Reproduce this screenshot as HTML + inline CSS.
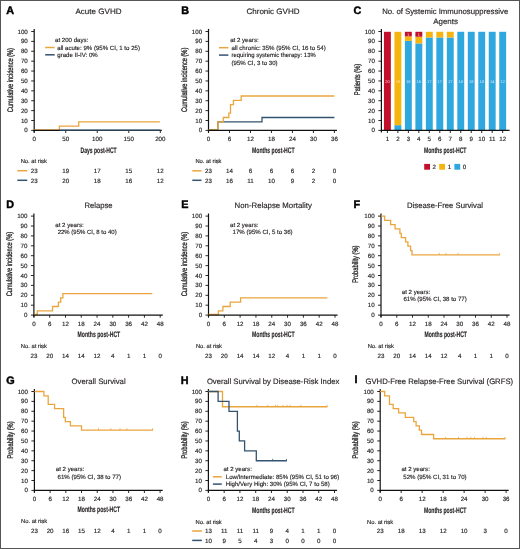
<!DOCTYPE html>
<html><head><meta charset="utf-8"><style>
html,body{margin:0;padding:0;background:#fff;}
body{width:520px;height:549px;overflow:hidden;font-family:"Liberation Sans", sans-serif;}
svg{display:block;will-change:transform;}
text{font-family:"Liberation Sans", sans-serif;text-rendering:geometricPrecision;stroke:currentColor;stroke-width:0.15px;}
</style></head><body>
<svg width="520" height="549" viewBox="0 0 520 549" font-family='"Liberation Sans", sans-serif'>
<rect x="0" y="0" width="520" height="549" fill="#fff"/>
<text x="6.30" y="13.80" font-size="10.8" text-anchor="start" font-weight="bold" fill="#000" color="#000" style="stroke-width:0.45px">A</text>
<text x="98.50" y="14.10" font-size="7.8" text-anchor="middle" font-weight="normal" fill="#231f20" color="#231f20" textLength="46.1" lengthAdjust="spacingAndGlyphs" >Acute GVHD</text>
<line x1="34.20" y1="28.90" x2="34.20" y2="132.60" stroke="#111111" stroke-width="1.2"/>
<line x1="31.20" y1="130.40" x2="34.20" y2="130.40" stroke="#111111" stroke-width="0.9"/>
<text x="27.80" y="132.40" font-size="6.2" text-anchor="end" font-weight="normal" fill="#231f20" color="#231f20" >0</text>
<line x1="31.20" y1="120.51" x2="34.20" y2="120.51" stroke="#111111" stroke-width="0.9"/>
<text x="27.80" y="122.51" font-size="6.2" text-anchor="end" font-weight="normal" fill="#231f20" color="#231f20" >10</text>
<line x1="31.20" y1="110.62" x2="34.20" y2="110.62" stroke="#111111" stroke-width="0.9"/>
<text x="27.80" y="112.62" font-size="6.2" text-anchor="end" font-weight="normal" fill="#231f20" color="#231f20" >20</text>
<line x1="31.20" y1="100.73" x2="34.20" y2="100.73" stroke="#111111" stroke-width="0.9"/>
<text x="27.80" y="102.73" font-size="6.2" text-anchor="end" font-weight="normal" fill="#231f20" color="#231f20" >30</text>
<line x1="31.20" y1="90.84" x2="34.20" y2="90.84" stroke="#111111" stroke-width="0.9"/>
<text x="27.80" y="92.84" font-size="6.2" text-anchor="end" font-weight="normal" fill="#231f20" color="#231f20" >40</text>
<line x1="31.20" y1="80.95" x2="34.20" y2="80.95" stroke="#111111" stroke-width="0.9"/>
<text x="27.80" y="82.95" font-size="6.2" text-anchor="end" font-weight="normal" fill="#231f20" color="#231f20" >50</text>
<line x1="31.20" y1="71.06" x2="34.20" y2="71.06" stroke="#111111" stroke-width="0.9"/>
<text x="27.80" y="73.06" font-size="6.2" text-anchor="end" font-weight="normal" fill="#231f20" color="#231f20" >60</text>
<line x1="31.20" y1="61.17" x2="34.20" y2="61.17" stroke="#111111" stroke-width="0.9"/>
<text x="27.80" y="63.17" font-size="6.2" text-anchor="end" font-weight="normal" fill="#231f20" color="#231f20" >70</text>
<line x1="31.20" y1="51.28" x2="34.20" y2="51.28" stroke="#111111" stroke-width="0.9"/>
<text x="27.80" y="53.28" font-size="6.2" text-anchor="end" font-weight="normal" fill="#231f20" color="#231f20" >80</text>
<line x1="31.20" y1="41.39" x2="34.20" y2="41.39" stroke="#111111" stroke-width="0.9"/>
<text x="27.80" y="43.39" font-size="6.2" text-anchor="end" font-weight="normal" fill="#231f20" color="#231f20" >90</text>
<line x1="31.20" y1="31.50" x2="34.20" y2="31.50" stroke="#111111" stroke-width="0.9"/>
<text x="27.80" y="33.50" font-size="6.2" text-anchor="end" font-weight="normal" fill="#231f20" color="#231f20" >100</text>
<text x="0" y="0" font-size="8.2" font-weight="normal" fill="#231f20" color="#231f20" text-anchor="middle" textLength="64.2" lengthAdjust="spacingAndGlyphs" style="stroke-width:0.3px" transform="translate(12.90,80.10) rotate(-90)">Cumulative incidence (%)</text>
<line x1="34.20" y1="130.40" x2="34.20" y2="133.00" stroke="#111111" stroke-width="0.9"/>
<text x="34.20" y="141.30" font-size="6.2" text-anchor="middle" font-weight="normal" fill="#231f20" color="#231f20" >0</text>
<line x1="65.73" y1="130.40" x2="65.73" y2="133.00" stroke="#111111" stroke-width="0.9"/>
<text x="65.73" y="141.30" font-size="6.2" text-anchor="middle" font-weight="normal" fill="#231f20" color="#231f20" >50</text>
<line x1="97.25" y1="130.40" x2="97.25" y2="133.00" stroke="#111111" stroke-width="0.9"/>
<text x="97.25" y="141.30" font-size="6.2" text-anchor="middle" font-weight="normal" fill="#231f20" color="#231f20" >100</text>
<line x1="128.78" y1="130.40" x2="128.78" y2="133.00" stroke="#111111" stroke-width="0.9"/>
<text x="128.78" y="141.30" font-size="6.2" text-anchor="middle" font-weight="normal" fill="#231f20" color="#231f20" >150</text>
<line x1="160.30" y1="130.40" x2="160.30" y2="133.00" stroke="#111111" stroke-width="0.9"/>
<text x="160.30" y="141.30" font-size="6.2" text-anchor="middle" font-weight="normal" fill="#231f20" color="#231f20" >200</text>
<text x="98.60" y="152.50" font-size="8.0" text-anchor="middle" font-weight="bold" fill="#231f20" color="#231f20" textLength="36.1" lengthAdjust="spacingAndGlyphs" >Days post-HCT</text>
<text x="55.00" y="42.30" font-size="6.1" text-anchor="start" font-weight="normal" fill="#231f20" color="#231f20" >at 200 days:</text>
<line x1="45.20" y1="47.50" x2="54.70" y2="47.50" stroke="#EAA63E" stroke-width="1.5"/>
<text x="57.30" y="49.60" font-size="6.1" text-anchor="start" font-weight="normal" fill="#231f20" color="#231f20" >all acute: 9% (95% CI, 1 to 25)</text>
<line x1="45.20" y1="54.80" x2="54.70" y2="54.80" stroke="#33536F" stroke-width="1.5"/>
<text x="57.30" y="56.90" font-size="6.1" text-anchor="start" font-weight="normal" fill="#231f20" color="#231f20" >grade II-IV: 0%</text>
<text x="20.70" y="163.20" font-size="5.8" text-anchor="start" font-weight="normal" fill="#231f20" color="#231f20" >No. at risk</text>
<line x1="17.30" y1="170.70" x2="27.30" y2="170.70" stroke="#EAA63E" stroke-width="1.5"/>
<line x1="17.30" y1="180.30" x2="27.30" y2="180.30" stroke="#33536F" stroke-width="1.5"/>
<text x="34.20" y="172.90" font-size="6.2" text-anchor="middle" font-weight="normal" fill="#231f20" color="#231f20" >23</text>
<text x="65.73" y="172.90" font-size="6.2" text-anchor="middle" font-weight="normal" fill="#231f20" color="#231f20" >19</text>
<text x="97.25" y="172.90" font-size="6.2" text-anchor="middle" font-weight="normal" fill="#231f20" color="#231f20" >17</text>
<text x="128.78" y="172.90" font-size="6.2" text-anchor="middle" font-weight="normal" fill="#231f20" color="#231f20" >15</text>
<text x="160.30" y="172.90" font-size="6.2" text-anchor="middle" font-weight="normal" fill="#231f20" color="#231f20" >12</text>
<text x="34.20" y="182.50" font-size="6.2" text-anchor="middle" font-weight="normal" fill="#231f20" color="#231f20" >23</text>
<text x="65.73" y="182.50" font-size="6.2" text-anchor="middle" font-weight="normal" fill="#231f20" color="#231f20" >20</text>
<text x="97.25" y="182.50" font-size="6.2" text-anchor="middle" font-weight="normal" fill="#231f20" color="#231f20" >18</text>
<text x="128.78" y="182.50" font-size="6.2" text-anchor="middle" font-weight="normal" fill="#231f20" color="#231f20" >16</text>
<text x="160.30" y="182.50" font-size="6.2" text-anchor="middle" font-weight="normal" fill="#231f20" color="#231f20" >12</text>
<text x="181.30" y="14.00" font-size="10.8" text-anchor="start" font-weight="bold" fill="#000" color="#000" style="stroke-width:0.45px">B</text>
<text x="273.00" y="14.10" font-size="7.8" text-anchor="middle" font-weight="normal" fill="#231f20" color="#231f20" textLength="53.1" lengthAdjust="spacingAndGlyphs" >Chronic GVHD</text>
<line x1="208.50" y1="28.90" x2="208.50" y2="132.60" stroke="#111111" stroke-width="1.2"/>
<line x1="205.50" y1="130.40" x2="208.50" y2="130.40" stroke="#111111" stroke-width="0.9"/>
<text x="202.10" y="132.40" font-size="6.2" text-anchor="end" font-weight="normal" fill="#231f20" color="#231f20" >0</text>
<line x1="205.50" y1="120.51" x2="208.50" y2="120.51" stroke="#111111" stroke-width="0.9"/>
<text x="202.10" y="122.51" font-size="6.2" text-anchor="end" font-weight="normal" fill="#231f20" color="#231f20" >10</text>
<line x1="205.50" y1="110.62" x2="208.50" y2="110.62" stroke="#111111" stroke-width="0.9"/>
<text x="202.10" y="112.62" font-size="6.2" text-anchor="end" font-weight="normal" fill="#231f20" color="#231f20" >20</text>
<line x1="205.50" y1="100.73" x2="208.50" y2="100.73" stroke="#111111" stroke-width="0.9"/>
<text x="202.10" y="102.73" font-size="6.2" text-anchor="end" font-weight="normal" fill="#231f20" color="#231f20" >30</text>
<line x1="205.50" y1="90.84" x2="208.50" y2="90.84" stroke="#111111" stroke-width="0.9"/>
<text x="202.10" y="92.84" font-size="6.2" text-anchor="end" font-weight="normal" fill="#231f20" color="#231f20" >40</text>
<line x1="205.50" y1="80.95" x2="208.50" y2="80.95" stroke="#111111" stroke-width="0.9"/>
<text x="202.10" y="82.95" font-size="6.2" text-anchor="end" font-weight="normal" fill="#231f20" color="#231f20" >50</text>
<line x1="205.50" y1="71.06" x2="208.50" y2="71.06" stroke="#111111" stroke-width="0.9"/>
<text x="202.10" y="73.06" font-size="6.2" text-anchor="end" font-weight="normal" fill="#231f20" color="#231f20" >60</text>
<line x1="205.50" y1="61.17" x2="208.50" y2="61.17" stroke="#111111" stroke-width="0.9"/>
<text x="202.10" y="63.17" font-size="6.2" text-anchor="end" font-weight="normal" fill="#231f20" color="#231f20" >70</text>
<line x1="205.50" y1="51.28" x2="208.50" y2="51.28" stroke="#111111" stroke-width="0.9"/>
<text x="202.10" y="53.28" font-size="6.2" text-anchor="end" font-weight="normal" fill="#231f20" color="#231f20" >80</text>
<line x1="205.50" y1="41.39" x2="208.50" y2="41.39" stroke="#111111" stroke-width="0.9"/>
<text x="202.10" y="43.39" font-size="6.2" text-anchor="end" font-weight="normal" fill="#231f20" color="#231f20" >90</text>
<line x1="205.50" y1="31.50" x2="208.50" y2="31.50" stroke="#111111" stroke-width="0.9"/>
<text x="202.10" y="33.50" font-size="6.2" text-anchor="end" font-weight="normal" fill="#231f20" color="#231f20" >100</text>
<text x="0" y="0" font-size="8.2" font-weight="normal" fill="#231f20" color="#231f20" text-anchor="middle" textLength="64.2" lengthAdjust="spacingAndGlyphs" style="stroke-width:0.3px" transform="translate(187.20,79.80) rotate(-90)">Cumulative incidence (%)</text>
<line x1="208.50" y1="130.40" x2="208.50" y2="133.00" stroke="#111111" stroke-width="0.9"/>
<text x="208.50" y="141.30" font-size="6.2" text-anchor="middle" font-weight="normal" fill="#231f20" color="#231f20" >0</text>
<line x1="229.48" y1="130.40" x2="229.48" y2="133.00" stroke="#111111" stroke-width="0.9"/>
<text x="229.48" y="141.30" font-size="6.2" text-anchor="middle" font-weight="normal" fill="#231f20" color="#231f20" >6</text>
<line x1="250.47" y1="130.40" x2="250.47" y2="133.00" stroke="#111111" stroke-width="0.9"/>
<text x="250.47" y="141.30" font-size="6.2" text-anchor="middle" font-weight="normal" fill="#231f20" color="#231f20" >12</text>
<line x1="271.45" y1="130.40" x2="271.45" y2="133.00" stroke="#111111" stroke-width="0.9"/>
<text x="271.45" y="141.30" font-size="6.2" text-anchor="middle" font-weight="normal" fill="#231f20" color="#231f20" >18</text>
<line x1="292.43" y1="130.40" x2="292.43" y2="133.00" stroke="#111111" stroke-width="0.9"/>
<text x="292.43" y="141.30" font-size="6.2" text-anchor="middle" font-weight="normal" fill="#231f20" color="#231f20" >24</text>
<line x1="313.42" y1="130.40" x2="313.42" y2="133.00" stroke="#111111" stroke-width="0.9"/>
<text x="313.42" y="141.30" font-size="6.2" text-anchor="middle" font-weight="normal" fill="#231f20" color="#231f20" >30</text>
<line x1="334.40" y1="130.40" x2="334.40" y2="133.00" stroke="#111111" stroke-width="0.9"/>
<text x="334.40" y="141.30" font-size="6.2" text-anchor="middle" font-weight="normal" fill="#231f20" color="#231f20" >36</text>
<text x="273.30" y="152.50" font-size="8.0" text-anchor="middle" font-weight="bold" fill="#231f20" color="#231f20" textLength="42.6" lengthAdjust="spacingAndGlyphs" >Months post-HCT</text>
<text x="230.20" y="42.30" font-size="6.1" text-anchor="start" font-weight="normal" fill="#231f20" color="#231f20" >at 2 years:</text>
<line x1="219.00" y1="47.70" x2="228.40" y2="47.70" stroke="#EAA63E" stroke-width="1.5"/>
<text x="231.50" y="49.80" font-size="6.1" text-anchor="start" font-weight="normal" fill="#231f20" color="#231f20" textLength="94.2" lengthAdjust="spacingAndGlyphs" >all chronic: 35% (95% CI, 16 to 54)</text>
<line x1="219.00" y1="55.10" x2="228.40" y2="55.10" stroke="#33536F" stroke-width="1.5"/>
<text x="231.50" y="57.20" font-size="6.1" text-anchor="start" font-weight="normal" fill="#231f20" color="#231f20" textLength="84.2" lengthAdjust="spacingAndGlyphs" >requiring systemic therapy: 13%</text>
<text x="231.50" y="64.50" font-size="6.1" text-anchor="start" font-weight="normal" fill="#231f20" color="#231f20" >(95% CI, 3 to 30)</text>
<text x="195.40" y="163.20" font-size="5.8" text-anchor="start" font-weight="normal" fill="#231f20" color="#231f20" >No. at risk</text>
<line x1="192.30" y1="170.80" x2="201.50" y2="170.80" stroke="#EAA63E" stroke-width="1.5"/>
<line x1="192.30" y1="180.30" x2="201.50" y2="180.30" stroke="#33536F" stroke-width="1.5"/>
<text x="208.50" y="173.00" font-size="6.2" text-anchor="middle" font-weight="normal" fill="#231f20" color="#231f20" >23</text>
<text x="229.48" y="173.00" font-size="6.2" text-anchor="middle" font-weight="normal" fill="#231f20" color="#231f20" >14</text>
<text x="250.47" y="173.00" font-size="6.2" text-anchor="middle" font-weight="normal" fill="#231f20" color="#231f20" >6</text>
<text x="271.45" y="173.00" font-size="6.2" text-anchor="middle" font-weight="normal" fill="#231f20" color="#231f20" >6</text>
<text x="292.43" y="173.00" font-size="6.2" text-anchor="middle" font-weight="normal" fill="#231f20" color="#231f20" >6</text>
<text x="313.42" y="173.00" font-size="6.2" text-anchor="middle" font-weight="normal" fill="#231f20" color="#231f20" >2</text>
<text x="334.40" y="173.00" font-size="6.2" text-anchor="middle" font-weight="normal" fill="#231f20" color="#231f20" >0</text>
<text x="208.50" y="182.50" font-size="6.2" text-anchor="middle" font-weight="normal" fill="#231f20" color="#231f20" >23</text>
<text x="229.48" y="182.50" font-size="6.2" text-anchor="middle" font-weight="normal" fill="#231f20" color="#231f20" >16</text>
<text x="250.47" y="182.50" font-size="6.2" text-anchor="middle" font-weight="normal" fill="#231f20" color="#231f20" >11</text>
<text x="271.45" y="182.50" font-size="6.2" text-anchor="middle" font-weight="normal" fill="#231f20" color="#231f20" >10</text>
<text x="292.43" y="182.50" font-size="6.2" text-anchor="middle" font-weight="normal" fill="#231f20" color="#231f20" >9</text>
<text x="313.42" y="182.50" font-size="6.2" text-anchor="middle" font-weight="normal" fill="#231f20" color="#231f20" >2</text>
<text x="334.40" y="182.50" font-size="6.2" text-anchor="middle" font-weight="normal" fill="#231f20" color="#231f20" >0</text>
<text x="353.50" y="14.20" font-size="10.8" text-anchor="start" font-weight="bold" fill="#000" color="#000" style="stroke-width:0.45px">C</text>
<text x="445.20" y="14.40" font-size="7.8" text-anchor="middle" font-weight="normal" fill="#231f20" color="#231f20" textLength="126.1" lengthAdjust="spacingAndGlyphs" >No. of Systemic Immunosuppressive</text>
<text x="445.60" y="23.90" font-size="7.8" text-anchor="middle" font-weight="normal" fill="#231f20" color="#231f20" textLength="24.8" lengthAdjust="spacingAndGlyphs" >Agents</text>
<text x="0" y="0" font-size="8.2" font-weight="normal" fill="#231f20" color="#231f20" text-anchor="middle" textLength="31.4" lengthAdjust="spacingAndGlyphs" style="stroke-width:0.3px" transform="translate(360.00,79.50) rotate(-90)">Patients (%)</text>
<rect x="383.95" y="31.80" width="6.9" height="98.60" fill="#C2102C"/>
<text x="387.40" y="82.60" font-size="4.0" text-anchor="middle" font-weight="normal" fill="#f3c9cf" color="#f3c9cf" style="stroke-width:0">20</text>
<rect x="394.43" y="125.17" width="6.9" height="5.23" fill="#2FA7DF"/>
<rect x="394.43" y="31.80" width="6.9" height="93.37" fill="#F6B40E"/>
<text x="397.88" y="82.60" font-size="4.0" text-anchor="middle" font-weight="normal" fill="#fbe3a8" color="#fbe3a8" style="stroke-width:0">19</text>
<rect x="404.91" y="40.87" width="6.9" height="89.53" fill="#2FA7DF"/>
<rect x="404.91" y="36.34" width="6.9" height="4.54" fill="#F6B40E"/>
<rect x="404.91" y="31.80" width="6.9" height="4.54" fill="#C2102C"/>
<text x="408.36" y="82.60" font-size="4.0" text-anchor="middle" font-weight="normal" fill="#cfe9f7" color="#cfe9f7" style="stroke-width:0">18</text>
<text x="408.36" y="35.86" font-size="3.8" text-anchor="middle" font-weight="normal" fill="#f6d0d6" color="#f6d0d6" style="stroke-width:0">1</text>
<rect x="415.39" y="43.43" width="6.9" height="86.97" fill="#2FA7DF"/>
<rect x="415.39" y="36.73" width="6.9" height="6.70" fill="#F6B40E"/>
<rect x="415.39" y="31.80" width="6.9" height="4.93" fill="#C2102C"/>
<text x="418.84" y="82.60" font-size="4.0" text-anchor="middle" font-weight="normal" fill="#cfe9f7" color="#cfe9f7" style="stroke-width:0">16</text>
<text x="418.84" y="35.86" font-size="3.8" text-anchor="middle" font-weight="normal" fill="#f6d0d6" color="#f6d0d6" style="stroke-width:0">1</text>
<rect x="425.87" y="37.52" width="6.9" height="92.88" fill="#2FA7DF"/>
<rect x="425.87" y="31.80" width="6.9" height="5.72" fill="#F6B40E"/>
<text x="429.32" y="82.60" font-size="4.0" text-anchor="middle" font-weight="normal" fill="#cfe9f7" color="#cfe9f7" style="stroke-width:0">17</text>
<rect x="436.35" y="37.52" width="6.9" height="92.88" fill="#2FA7DF"/>
<rect x="436.35" y="31.80" width="6.9" height="5.72" fill="#F6B40E"/>
<text x="439.80" y="82.60" font-size="4.0" text-anchor="middle" font-weight="normal" fill="#cfe9f7" color="#cfe9f7" style="stroke-width:0">17</text>
<rect x="446.83" y="37.52" width="6.9" height="92.88" fill="#2FA7DF"/>
<rect x="446.83" y="31.80" width="6.9" height="5.72" fill="#F6B40E"/>
<text x="450.28" y="82.60" font-size="4.0" text-anchor="middle" font-weight="normal" fill="#cfe9f7" color="#cfe9f7" style="stroke-width:0">17</text>
<rect x="457.31" y="31.80" width="6.9" height="98.60" fill="#2FA7DF"/>
<text x="460.76" y="82.60" font-size="4.0" text-anchor="middle" font-weight="normal" fill="#cfe9f7" color="#cfe9f7" style="stroke-width:0">18</text>
<rect x="467.79" y="31.80" width="6.9" height="98.60" fill="#2FA7DF"/>
<text x="471.24" y="82.60" font-size="4.0" text-anchor="middle" font-weight="normal" fill="#cfe9f7" color="#cfe9f7" style="stroke-width:0">18</text>
<rect x="478.27" y="31.80" width="6.9" height="98.60" fill="#2FA7DF"/>
<text x="481.72" y="82.60" font-size="4.0" text-anchor="middle" font-weight="normal" fill="#cfe9f7" color="#cfe9f7" style="stroke-width:0">18</text>
<rect x="488.75" y="31.80" width="6.9" height="98.60" fill="#2FA7DF"/>
<text x="492.20" y="82.60" font-size="4.0" text-anchor="middle" font-weight="normal" fill="#cfe9f7" color="#cfe9f7" style="stroke-width:0">14</text>
<rect x="499.23" y="31.80" width="6.9" height="98.60" fill="#2FA7DF"/>
<text x="502.68" y="82.60" font-size="4.0" text-anchor="middle" font-weight="normal" fill="#cfe9f7" color="#cfe9f7" style="stroke-width:0">12</text>
<line x1="381.40" y1="28.90" x2="381.40" y2="132.60" stroke="#111111" stroke-width="1.2"/>
<line x1="378.40" y1="130.40" x2="381.40" y2="130.40" stroke="#111111" stroke-width="0.9"/>
<text x="375.00" y="132.40" font-size="6.2" text-anchor="end" font-weight="normal" fill="#231f20" color="#231f20" >0</text>
<line x1="378.40" y1="120.51" x2="381.40" y2="120.51" stroke="#111111" stroke-width="0.9"/>
<text x="375.00" y="122.51" font-size="6.2" text-anchor="end" font-weight="normal" fill="#231f20" color="#231f20" >10</text>
<line x1="378.40" y1="110.62" x2="381.40" y2="110.62" stroke="#111111" stroke-width="0.9"/>
<text x="375.00" y="112.62" font-size="6.2" text-anchor="end" font-weight="normal" fill="#231f20" color="#231f20" >20</text>
<line x1="378.40" y1="100.73" x2="381.40" y2="100.73" stroke="#111111" stroke-width="0.9"/>
<text x="375.00" y="102.73" font-size="6.2" text-anchor="end" font-weight="normal" fill="#231f20" color="#231f20" >30</text>
<line x1="378.40" y1="90.84" x2="381.40" y2="90.84" stroke="#111111" stroke-width="0.9"/>
<text x="375.00" y="92.84" font-size="6.2" text-anchor="end" font-weight="normal" fill="#231f20" color="#231f20" >40</text>
<line x1="378.40" y1="80.95" x2="381.40" y2="80.95" stroke="#111111" stroke-width="0.9"/>
<text x="375.00" y="82.95" font-size="6.2" text-anchor="end" font-weight="normal" fill="#231f20" color="#231f20" >50</text>
<line x1="378.40" y1="71.06" x2="381.40" y2="71.06" stroke="#111111" stroke-width="0.9"/>
<text x="375.00" y="73.06" font-size="6.2" text-anchor="end" font-weight="normal" fill="#231f20" color="#231f20" >60</text>
<line x1="378.40" y1="61.17" x2="381.40" y2="61.17" stroke="#111111" stroke-width="0.9"/>
<text x="375.00" y="63.17" font-size="6.2" text-anchor="end" font-weight="normal" fill="#231f20" color="#231f20" >70</text>
<line x1="378.40" y1="51.28" x2="381.40" y2="51.28" stroke="#111111" stroke-width="0.9"/>
<text x="375.00" y="53.28" font-size="6.2" text-anchor="end" font-weight="normal" fill="#231f20" color="#231f20" >80</text>
<line x1="378.40" y1="41.39" x2="381.40" y2="41.39" stroke="#111111" stroke-width="0.9"/>
<text x="375.00" y="43.39" font-size="6.2" text-anchor="end" font-weight="normal" fill="#231f20" color="#231f20" >90</text>
<line x1="378.40" y1="31.50" x2="381.40" y2="31.50" stroke="#111111" stroke-width="0.9"/>
<text x="375.00" y="33.50" font-size="6.2" text-anchor="end" font-weight="normal" fill="#231f20" color="#231f20" >100</text>
<line x1="380.90" y1="130.40" x2="509.60" y2="130.40" stroke="#111111" stroke-width="1.2"/>
<line x1="387.40" y1="130.40" x2="387.40" y2="133.00" stroke="#111111" stroke-width="0.9"/>
<text x="387.40" y="141.30" font-size="6.2" text-anchor="middle" font-weight="normal" fill="#231f20" color="#231f20" >1</text>
<line x1="397.88" y1="130.40" x2="397.88" y2="133.00" stroke="#111111" stroke-width="0.9"/>
<text x="397.88" y="141.30" font-size="6.2" text-anchor="middle" font-weight="normal" fill="#231f20" color="#231f20" >2</text>
<line x1="408.36" y1="130.40" x2="408.36" y2="133.00" stroke="#111111" stroke-width="0.9"/>
<text x="408.36" y="141.30" font-size="6.2" text-anchor="middle" font-weight="normal" fill="#231f20" color="#231f20" >3</text>
<line x1="418.84" y1="130.40" x2="418.84" y2="133.00" stroke="#111111" stroke-width="0.9"/>
<text x="418.84" y="141.30" font-size="6.2" text-anchor="middle" font-weight="normal" fill="#231f20" color="#231f20" >4</text>
<line x1="429.32" y1="130.40" x2="429.32" y2="133.00" stroke="#111111" stroke-width="0.9"/>
<text x="429.32" y="141.30" font-size="6.2" text-anchor="middle" font-weight="normal" fill="#231f20" color="#231f20" >5</text>
<line x1="439.80" y1="130.40" x2="439.80" y2="133.00" stroke="#111111" stroke-width="0.9"/>
<text x="439.80" y="141.30" font-size="6.2" text-anchor="middle" font-weight="normal" fill="#231f20" color="#231f20" >6</text>
<line x1="450.28" y1="130.40" x2="450.28" y2="133.00" stroke="#111111" stroke-width="0.9"/>
<text x="450.28" y="141.30" font-size="6.2" text-anchor="middle" font-weight="normal" fill="#231f20" color="#231f20" >7</text>
<line x1="460.76" y1="130.40" x2="460.76" y2="133.00" stroke="#111111" stroke-width="0.9"/>
<text x="460.76" y="141.30" font-size="6.2" text-anchor="middle" font-weight="normal" fill="#231f20" color="#231f20" >8</text>
<line x1="471.24" y1="130.40" x2="471.24" y2="133.00" stroke="#111111" stroke-width="0.9"/>
<text x="471.24" y="141.30" font-size="6.2" text-anchor="middle" font-weight="normal" fill="#231f20" color="#231f20" >9</text>
<line x1="481.72" y1="130.40" x2="481.72" y2="133.00" stroke="#111111" stroke-width="0.9"/>
<text x="481.72" y="141.30" font-size="6.2" text-anchor="middle" font-weight="normal" fill="#231f20" color="#231f20" >10</text>
<line x1="492.20" y1="130.40" x2="492.20" y2="133.00" stroke="#111111" stroke-width="0.9"/>
<text x="492.20" y="141.30" font-size="6.2" text-anchor="middle" font-weight="normal" fill="#231f20" color="#231f20" >11</text>
<line x1="502.68" y1="130.40" x2="502.68" y2="133.00" stroke="#111111" stroke-width="0.9"/>
<text x="502.68" y="141.30" font-size="6.2" text-anchor="middle" font-weight="normal" fill="#231f20" color="#231f20" >12</text>
<text x="445.20" y="152.90" font-size="8.0" text-anchor="middle" font-weight="bold" fill="#231f20" color="#231f20" textLength="42.6" lengthAdjust="spacingAndGlyphs" >Months post-HCT</text>
<rect x="424.2" y="163.9" width="5.8" height="5.8" fill="#C2102C"/>
<text x="434.20" y="169.10" font-size="6.2" text-anchor="middle" font-weight="normal" fill="#231f20" color="#231f20" >2</text>
<rect x="439.2" y="163.9" width="5.8" height="5.8" fill="#F6B40E"/>
<text x="449.50" y="169.10" font-size="6.2" text-anchor="middle" font-weight="normal" fill="#231f20" color="#231f20" >1</text>
<rect x="454.4" y="163.9" width="5.8" height="5.8" fill="#2FA7DF"/>
<text x="464.60" y="169.10" font-size="6.2" text-anchor="middle" font-weight="normal" fill="#231f20" color="#231f20" >0</text>
<text x="6.30" y="207.80" font-size="10.8" text-anchor="start" font-weight="bold" fill="#000" color="#000" style="stroke-width:0.45px">D</text>
<text x="98.50" y="208.00" font-size="7.8" text-anchor="middle" font-weight="normal" fill="#231f20" color="#231f20" textLength="28.200000000000003" lengthAdjust="spacingAndGlyphs" >Relapse</text>
<line x1="33.90" y1="213.50" x2="33.90" y2="317.30" stroke="#111111" stroke-width="1.2"/>
<line x1="30.90" y1="315.10" x2="33.90" y2="315.10" stroke="#111111" stroke-width="0.9"/>
<text x="27.50" y="317.10" font-size="6.2" text-anchor="end" font-weight="normal" fill="#231f20" color="#231f20" >0</text>
<line x1="30.90" y1="305.20" x2="33.90" y2="305.20" stroke="#111111" stroke-width="0.9"/>
<text x="27.50" y="307.20" font-size="6.2" text-anchor="end" font-weight="normal" fill="#231f20" color="#231f20" >10</text>
<line x1="30.90" y1="295.30" x2="33.90" y2="295.30" stroke="#111111" stroke-width="0.9"/>
<text x="27.50" y="297.30" font-size="6.2" text-anchor="end" font-weight="normal" fill="#231f20" color="#231f20" >20</text>
<line x1="30.90" y1="285.40" x2="33.90" y2="285.40" stroke="#111111" stroke-width="0.9"/>
<text x="27.50" y="287.40" font-size="6.2" text-anchor="end" font-weight="normal" fill="#231f20" color="#231f20" >30</text>
<line x1="30.90" y1="275.50" x2="33.90" y2="275.50" stroke="#111111" stroke-width="0.9"/>
<text x="27.50" y="277.50" font-size="6.2" text-anchor="end" font-weight="normal" fill="#231f20" color="#231f20" >40</text>
<line x1="30.90" y1="265.60" x2="33.90" y2="265.60" stroke="#111111" stroke-width="0.9"/>
<text x="27.50" y="267.60" font-size="6.2" text-anchor="end" font-weight="normal" fill="#231f20" color="#231f20" >50</text>
<line x1="30.90" y1="255.70" x2="33.90" y2="255.70" stroke="#111111" stroke-width="0.9"/>
<text x="27.50" y="257.70" font-size="6.2" text-anchor="end" font-weight="normal" fill="#231f20" color="#231f20" >60</text>
<line x1="30.90" y1="245.80" x2="33.90" y2="245.80" stroke="#111111" stroke-width="0.9"/>
<text x="27.50" y="247.80" font-size="6.2" text-anchor="end" font-weight="normal" fill="#231f20" color="#231f20" >70</text>
<line x1="30.90" y1="235.90" x2="33.90" y2="235.90" stroke="#111111" stroke-width="0.9"/>
<text x="27.50" y="237.90" font-size="6.2" text-anchor="end" font-weight="normal" fill="#231f20" color="#231f20" >80</text>
<line x1="30.90" y1="226.00" x2="33.90" y2="226.00" stroke="#111111" stroke-width="0.9"/>
<text x="27.50" y="228.00" font-size="6.2" text-anchor="end" font-weight="normal" fill="#231f20" color="#231f20" >90</text>
<line x1="30.90" y1="216.10" x2="33.90" y2="216.10" stroke="#111111" stroke-width="0.9"/>
<text x="27.50" y="218.10" font-size="6.2" text-anchor="end" font-weight="normal" fill="#231f20" color="#231f20" >100</text>
<text x="0" y="0" font-size="8.2" font-weight="normal" fill="#231f20" color="#231f20" text-anchor="middle" textLength="64.4" lengthAdjust="spacingAndGlyphs" style="stroke-width:0.3px" transform="translate(12.40,264.10) rotate(-90)">Cumulative incidence (%)</text>
<line x1="33.90" y1="315.10" x2="33.90" y2="317.70" stroke="#111111" stroke-width="0.9"/>
<text x="33.90" y="325.90" font-size="6.2" text-anchor="middle" font-weight="normal" fill="#231f20" color="#231f20" >0</text>
<line x1="49.69" y1="315.10" x2="49.69" y2="317.70" stroke="#111111" stroke-width="0.9"/>
<text x="49.69" y="325.90" font-size="6.2" text-anchor="middle" font-weight="normal" fill="#231f20" color="#231f20" >6</text>
<line x1="65.47" y1="315.10" x2="65.47" y2="317.70" stroke="#111111" stroke-width="0.9"/>
<text x="65.47" y="325.90" font-size="6.2" text-anchor="middle" font-weight="normal" fill="#231f20" color="#231f20" >12</text>
<line x1="81.26" y1="315.10" x2="81.26" y2="317.70" stroke="#111111" stroke-width="0.9"/>
<text x="81.26" y="325.90" font-size="6.2" text-anchor="middle" font-weight="normal" fill="#231f20" color="#231f20" >18</text>
<line x1="97.05" y1="315.10" x2="97.05" y2="317.70" stroke="#111111" stroke-width="0.9"/>
<text x="97.05" y="325.90" font-size="6.2" text-anchor="middle" font-weight="normal" fill="#231f20" color="#231f20" >24</text>
<line x1="112.84" y1="315.10" x2="112.84" y2="317.70" stroke="#111111" stroke-width="0.9"/>
<text x="112.84" y="325.90" font-size="6.2" text-anchor="middle" font-weight="normal" fill="#231f20" color="#231f20" >30</text>
<line x1="128.62" y1="315.10" x2="128.62" y2="317.70" stroke="#111111" stroke-width="0.9"/>
<text x="128.62" y="325.90" font-size="6.2" text-anchor="middle" font-weight="normal" fill="#231f20" color="#231f20" >36</text>
<line x1="144.41" y1="315.10" x2="144.41" y2="317.70" stroke="#111111" stroke-width="0.9"/>
<text x="144.41" y="325.90" font-size="6.2" text-anchor="middle" font-weight="normal" fill="#231f20" color="#231f20" >42</text>
<line x1="160.20" y1="315.10" x2="160.20" y2="317.70" stroke="#111111" stroke-width="0.9"/>
<text x="160.20" y="325.90" font-size="6.2" text-anchor="middle" font-weight="normal" fill="#231f20" color="#231f20" >48</text>
<text x="98.90" y="337.30" font-size="8.0" text-anchor="middle" font-weight="bold" fill="#231f20" color="#231f20" textLength="42.6" lengthAdjust="spacingAndGlyphs" >Months post-HCT</text>
<text x="55.30" y="227.20" font-size="6.1" text-anchor="start" font-weight="normal" fill="#231f20" color="#231f20" >at 2 years:</text>
<text x="57.70" y="234.20" font-size="6.1" text-anchor="start" font-weight="normal" fill="#231f20" color="#231f20" textLength="59.0" lengthAdjust="spacingAndGlyphs" >22% (95% CI, 8 to 40)</text>
<text x="20.80" y="347.90" font-size="5.8" text-anchor="start" font-weight="normal" fill="#231f20" color="#231f20" >No. at risk</text>
<text x="33.90" y="357.60" font-size="6.2" text-anchor="middle" font-weight="normal" fill="#231f20" color="#231f20" >23</text>
<text x="49.69" y="357.60" font-size="6.2" text-anchor="middle" font-weight="normal" fill="#231f20" color="#231f20" >20</text>
<text x="65.47" y="357.60" font-size="6.2" text-anchor="middle" font-weight="normal" fill="#231f20" color="#231f20" >14</text>
<text x="81.26" y="357.60" font-size="6.2" text-anchor="middle" font-weight="normal" fill="#231f20" color="#231f20" >14</text>
<text x="97.05" y="357.60" font-size="6.2" text-anchor="middle" font-weight="normal" fill="#231f20" color="#231f20" >12</text>
<text x="112.84" y="357.60" font-size="6.2" text-anchor="middle" font-weight="normal" fill="#231f20" color="#231f20" >4</text>
<text x="128.62" y="357.60" font-size="6.2" text-anchor="middle" font-weight="normal" fill="#231f20" color="#231f20" >1</text>
<text x="144.41" y="357.60" font-size="6.2" text-anchor="middle" font-weight="normal" fill="#231f20" color="#231f20" >1</text>
<text x="160.20" y="357.60" font-size="6.2" text-anchor="middle" font-weight="normal" fill="#231f20" color="#231f20" >0</text>
<text x="181.30" y="207.80" font-size="10.8" text-anchor="start" font-weight="bold" fill="#000" color="#000" style="stroke-width:0.45px">E</text>
<text x="273.20" y="208.00" font-size="7.8" text-anchor="middle" font-weight="normal" fill="#231f20" color="#231f20" textLength="77.19999999999999" lengthAdjust="spacingAndGlyphs" >Non-Relapse Mortality</text>
<line x1="208.50" y1="213.50" x2="208.50" y2="317.30" stroke="#111111" stroke-width="1.2"/>
<line x1="205.50" y1="315.10" x2="208.50" y2="315.10" stroke="#111111" stroke-width="0.9"/>
<text x="202.10" y="317.10" font-size="6.2" text-anchor="end" font-weight="normal" fill="#231f20" color="#231f20" >0</text>
<line x1="205.50" y1="305.20" x2="208.50" y2="305.20" stroke="#111111" stroke-width="0.9"/>
<text x="202.10" y="307.20" font-size="6.2" text-anchor="end" font-weight="normal" fill="#231f20" color="#231f20" >10</text>
<line x1="205.50" y1="295.30" x2="208.50" y2="295.30" stroke="#111111" stroke-width="0.9"/>
<text x="202.10" y="297.30" font-size="6.2" text-anchor="end" font-weight="normal" fill="#231f20" color="#231f20" >20</text>
<line x1="205.50" y1="285.40" x2="208.50" y2="285.40" stroke="#111111" stroke-width="0.9"/>
<text x="202.10" y="287.40" font-size="6.2" text-anchor="end" font-weight="normal" fill="#231f20" color="#231f20" >30</text>
<line x1="205.50" y1="275.50" x2="208.50" y2="275.50" stroke="#111111" stroke-width="0.9"/>
<text x="202.10" y="277.50" font-size="6.2" text-anchor="end" font-weight="normal" fill="#231f20" color="#231f20" >40</text>
<line x1="205.50" y1="265.60" x2="208.50" y2="265.60" stroke="#111111" stroke-width="0.9"/>
<text x="202.10" y="267.60" font-size="6.2" text-anchor="end" font-weight="normal" fill="#231f20" color="#231f20" >50</text>
<line x1="205.50" y1="255.70" x2="208.50" y2="255.70" stroke="#111111" stroke-width="0.9"/>
<text x="202.10" y="257.70" font-size="6.2" text-anchor="end" font-weight="normal" fill="#231f20" color="#231f20" >60</text>
<line x1="205.50" y1="245.80" x2="208.50" y2="245.80" stroke="#111111" stroke-width="0.9"/>
<text x="202.10" y="247.80" font-size="6.2" text-anchor="end" font-weight="normal" fill="#231f20" color="#231f20" >70</text>
<line x1="205.50" y1="235.90" x2="208.50" y2="235.90" stroke="#111111" stroke-width="0.9"/>
<text x="202.10" y="237.90" font-size="6.2" text-anchor="end" font-weight="normal" fill="#231f20" color="#231f20" >80</text>
<line x1="205.50" y1="226.00" x2="208.50" y2="226.00" stroke="#111111" stroke-width="0.9"/>
<text x="202.10" y="228.00" font-size="6.2" text-anchor="end" font-weight="normal" fill="#231f20" color="#231f20" >90</text>
<line x1="205.50" y1="216.10" x2="208.50" y2="216.10" stroke="#111111" stroke-width="0.9"/>
<text x="202.10" y="218.10" font-size="6.2" text-anchor="end" font-weight="normal" fill="#231f20" color="#231f20" >100</text>
<text x="0" y="0" font-size="8.2" font-weight="normal" fill="#231f20" color="#231f20" text-anchor="middle" textLength="64.4" lengthAdjust="spacingAndGlyphs" style="stroke-width:0.3px" transform="translate(187.20,264.10) rotate(-90)">Cumulative incidence (%)</text>
<line x1="208.50" y1="315.10" x2="208.50" y2="317.70" stroke="#111111" stroke-width="0.9"/>
<text x="208.50" y="325.90" font-size="6.2" text-anchor="middle" font-weight="normal" fill="#231f20" color="#231f20" >0</text>
<line x1="224.31" y1="315.10" x2="224.31" y2="317.70" stroke="#111111" stroke-width="0.9"/>
<text x="224.31" y="325.90" font-size="6.2" text-anchor="middle" font-weight="normal" fill="#231f20" color="#231f20" >6</text>
<line x1="240.12" y1="315.10" x2="240.12" y2="317.70" stroke="#111111" stroke-width="0.9"/>
<text x="240.12" y="325.90" font-size="6.2" text-anchor="middle" font-weight="normal" fill="#231f20" color="#231f20" >12</text>
<line x1="255.94" y1="315.10" x2="255.94" y2="317.70" stroke="#111111" stroke-width="0.9"/>
<text x="255.94" y="325.90" font-size="6.2" text-anchor="middle" font-weight="normal" fill="#231f20" color="#231f20" >18</text>
<line x1="271.75" y1="315.10" x2="271.75" y2="317.70" stroke="#111111" stroke-width="0.9"/>
<text x="271.75" y="325.90" font-size="6.2" text-anchor="middle" font-weight="normal" fill="#231f20" color="#231f20" >24</text>
<line x1="287.56" y1="315.10" x2="287.56" y2="317.70" stroke="#111111" stroke-width="0.9"/>
<text x="287.56" y="325.90" font-size="6.2" text-anchor="middle" font-weight="normal" fill="#231f20" color="#231f20" >30</text>
<line x1="303.38" y1="315.10" x2="303.38" y2="317.70" stroke="#111111" stroke-width="0.9"/>
<text x="303.38" y="325.90" font-size="6.2" text-anchor="middle" font-weight="normal" fill="#231f20" color="#231f20" >36</text>
<line x1="319.19" y1="315.10" x2="319.19" y2="317.70" stroke="#111111" stroke-width="0.9"/>
<text x="319.19" y="325.90" font-size="6.2" text-anchor="middle" font-weight="normal" fill="#231f20" color="#231f20" >42</text>
<line x1="335.00" y1="315.10" x2="335.00" y2="317.70" stroke="#111111" stroke-width="0.9"/>
<text x="335.00" y="325.90" font-size="6.2" text-anchor="middle" font-weight="normal" fill="#231f20" color="#231f20" >48</text>
<text x="273.30" y="337.30" font-size="8.0" text-anchor="middle" font-weight="bold" fill="#231f20" color="#231f20" textLength="42.6" lengthAdjust="spacingAndGlyphs" >Months post-HCT</text>
<text x="230.00" y="227.20" font-size="6.1" text-anchor="start" font-weight="normal" fill="#231f20" color="#231f20" >at 2 years:</text>
<text x="232.60" y="234.20" font-size="6.1" text-anchor="start" font-weight="normal" fill="#231f20" color="#231f20" >17% (95% CI, 5 to 36)</text>
<text x="195.90" y="347.90" font-size="5.8" text-anchor="start" font-weight="normal" fill="#231f20" color="#231f20" >No. at risk</text>
<text x="208.50" y="357.70" font-size="6.2" text-anchor="middle" font-weight="normal" fill="#231f20" color="#231f20" >23</text>
<text x="224.31" y="357.70" font-size="6.2" text-anchor="middle" font-weight="normal" fill="#231f20" color="#231f20" >20</text>
<text x="240.12" y="357.70" font-size="6.2" text-anchor="middle" font-weight="normal" fill="#231f20" color="#231f20" >14</text>
<text x="255.94" y="357.70" font-size="6.2" text-anchor="middle" font-weight="normal" fill="#231f20" color="#231f20" >14</text>
<text x="271.75" y="357.70" font-size="6.2" text-anchor="middle" font-weight="normal" fill="#231f20" color="#231f20" >12</text>
<text x="287.56" y="357.70" font-size="6.2" text-anchor="middle" font-weight="normal" fill="#231f20" color="#231f20" >4</text>
<text x="303.38" y="357.70" font-size="6.2" text-anchor="middle" font-weight="normal" fill="#231f20" color="#231f20" >1</text>
<text x="319.19" y="357.70" font-size="6.2" text-anchor="middle" font-weight="normal" fill="#231f20" color="#231f20" >1</text>
<text x="335.00" y="357.70" font-size="6.2" text-anchor="middle" font-weight="normal" fill="#231f20" color="#231f20" >0</text>
<text x="353.50" y="207.80" font-size="10.8" text-anchor="start" font-weight="bold" fill="#000" color="#000" style="stroke-width:0.45px">F</text>
<text x="445.00" y="208.00" font-size="7.8" text-anchor="middle" font-weight="normal" fill="#231f20" color="#231f20" textLength="75.89999999999999" lengthAdjust="spacingAndGlyphs" >Disease-Free Survival</text>
<line x1="381.00" y1="213.50" x2="381.00" y2="317.30" stroke="#111111" stroke-width="1.2"/>
<line x1="378.00" y1="315.10" x2="381.00" y2="315.10" stroke="#111111" stroke-width="0.9"/>
<text x="374.60" y="317.10" font-size="6.2" text-anchor="end" font-weight="normal" fill="#231f20" color="#231f20" >0</text>
<line x1="378.00" y1="305.20" x2="381.00" y2="305.20" stroke="#111111" stroke-width="0.9"/>
<text x="374.60" y="307.20" font-size="6.2" text-anchor="end" font-weight="normal" fill="#231f20" color="#231f20" >10</text>
<line x1="378.00" y1="295.30" x2="381.00" y2="295.30" stroke="#111111" stroke-width="0.9"/>
<text x="374.60" y="297.30" font-size="6.2" text-anchor="end" font-weight="normal" fill="#231f20" color="#231f20" >20</text>
<line x1="378.00" y1="285.40" x2="381.00" y2="285.40" stroke="#111111" stroke-width="0.9"/>
<text x="374.60" y="287.40" font-size="6.2" text-anchor="end" font-weight="normal" fill="#231f20" color="#231f20" >30</text>
<line x1="378.00" y1="275.50" x2="381.00" y2="275.50" stroke="#111111" stroke-width="0.9"/>
<text x="374.60" y="277.50" font-size="6.2" text-anchor="end" font-weight="normal" fill="#231f20" color="#231f20" >40</text>
<line x1="378.00" y1="265.60" x2="381.00" y2="265.60" stroke="#111111" stroke-width="0.9"/>
<text x="374.60" y="267.60" font-size="6.2" text-anchor="end" font-weight="normal" fill="#231f20" color="#231f20" >50</text>
<line x1="378.00" y1="255.70" x2="381.00" y2="255.70" stroke="#111111" stroke-width="0.9"/>
<text x="374.60" y="257.70" font-size="6.2" text-anchor="end" font-weight="normal" fill="#231f20" color="#231f20" >60</text>
<line x1="378.00" y1="245.80" x2="381.00" y2="245.80" stroke="#111111" stroke-width="0.9"/>
<text x="374.60" y="247.80" font-size="6.2" text-anchor="end" font-weight="normal" fill="#231f20" color="#231f20" >70</text>
<line x1="378.00" y1="235.90" x2="381.00" y2="235.90" stroke="#111111" stroke-width="0.9"/>
<text x="374.60" y="237.90" font-size="6.2" text-anchor="end" font-weight="normal" fill="#231f20" color="#231f20" >80</text>
<line x1="378.00" y1="226.00" x2="381.00" y2="226.00" stroke="#111111" stroke-width="0.9"/>
<text x="374.60" y="228.00" font-size="6.2" text-anchor="end" font-weight="normal" fill="#231f20" color="#231f20" >90</text>
<line x1="378.00" y1="216.10" x2="381.00" y2="216.10" stroke="#111111" stroke-width="0.9"/>
<text x="374.60" y="218.10" font-size="6.2" text-anchor="end" font-weight="normal" fill="#231f20" color="#231f20" >100</text>
<text x="0" y="0" font-size="8.2" font-weight="normal" fill="#231f20" color="#231f20" text-anchor="middle" textLength="37.3" lengthAdjust="spacingAndGlyphs" style="stroke-width:0.3px" transform="translate(358.20,264.20) rotate(-90)">Probability (%)</text>
<line x1="381.00" y1="315.10" x2="381.00" y2="317.70" stroke="#111111" stroke-width="0.9"/>
<text x="381.00" y="325.90" font-size="6.2" text-anchor="middle" font-weight="normal" fill="#231f20" color="#231f20" >0</text>
<line x1="396.75" y1="315.10" x2="396.75" y2="317.70" stroke="#111111" stroke-width="0.9"/>
<text x="396.75" y="325.90" font-size="6.2" text-anchor="middle" font-weight="normal" fill="#231f20" color="#231f20" >6</text>
<line x1="412.50" y1="315.10" x2="412.50" y2="317.70" stroke="#111111" stroke-width="0.9"/>
<text x="412.50" y="325.90" font-size="6.2" text-anchor="middle" font-weight="normal" fill="#231f20" color="#231f20" >12</text>
<line x1="428.25" y1="315.10" x2="428.25" y2="317.70" stroke="#111111" stroke-width="0.9"/>
<text x="428.25" y="325.90" font-size="6.2" text-anchor="middle" font-weight="normal" fill="#231f20" color="#231f20" >18</text>
<line x1="444.00" y1="315.10" x2="444.00" y2="317.70" stroke="#111111" stroke-width="0.9"/>
<text x="444.00" y="325.90" font-size="6.2" text-anchor="middle" font-weight="normal" fill="#231f20" color="#231f20" >24</text>
<line x1="459.75" y1="315.10" x2="459.75" y2="317.70" stroke="#111111" stroke-width="0.9"/>
<text x="459.75" y="325.90" font-size="6.2" text-anchor="middle" font-weight="normal" fill="#231f20" color="#231f20" >30</text>
<line x1="475.50" y1="315.10" x2="475.50" y2="317.70" stroke="#111111" stroke-width="0.9"/>
<text x="475.50" y="325.90" font-size="6.2" text-anchor="middle" font-weight="normal" fill="#231f20" color="#231f20" >36</text>
<line x1="491.25" y1="315.10" x2="491.25" y2="317.70" stroke="#111111" stroke-width="0.9"/>
<text x="491.25" y="325.90" font-size="6.2" text-anchor="middle" font-weight="normal" fill="#231f20" color="#231f20" >42</text>
<line x1="507.00" y1="315.10" x2="507.00" y2="317.70" stroke="#111111" stroke-width="0.9"/>
<text x="507.00" y="325.90" font-size="6.2" text-anchor="middle" font-weight="normal" fill="#231f20" color="#231f20" >48</text>
<text x="445.70" y="337.30" font-size="8.0" text-anchor="middle" font-weight="bold" fill="#231f20" color="#231f20" textLength="42.6" lengthAdjust="spacingAndGlyphs" >Months post-HCT</text>
<text x="401.80" y="293.90" font-size="6.1" text-anchor="start" font-weight="normal" fill="#231f20" color="#231f20" >at 2 years:</text>
<text x="403.40" y="300.90" font-size="6.1" text-anchor="start" font-weight="normal" fill="#231f20" color="#231f20" >61% (95% CI, 38 to 77)</text>
<text x="367.70" y="347.90" font-size="5.8" text-anchor="start" font-weight="normal" fill="#231f20" color="#231f20" >No. at risk</text>
<text x="381.00" y="357.60" font-size="6.2" text-anchor="middle" font-weight="normal" fill="#231f20" color="#231f20" >23</text>
<text x="396.75" y="357.60" font-size="6.2" text-anchor="middle" font-weight="normal" fill="#231f20" color="#231f20" >20</text>
<text x="412.50" y="357.60" font-size="6.2" text-anchor="middle" font-weight="normal" fill="#231f20" color="#231f20" >14</text>
<text x="428.25" y="357.60" font-size="6.2" text-anchor="middle" font-weight="normal" fill="#231f20" color="#231f20" >14</text>
<text x="444.00" y="357.60" font-size="6.2" text-anchor="middle" font-weight="normal" fill="#231f20" color="#231f20" >12</text>
<text x="459.75" y="357.60" font-size="6.2" text-anchor="middle" font-weight="normal" fill="#231f20" color="#231f20" >4</text>
<text x="475.50" y="357.60" font-size="6.2" text-anchor="middle" font-weight="normal" fill="#231f20" color="#231f20" >1</text>
<text x="491.25" y="357.60" font-size="6.2" text-anchor="middle" font-weight="normal" fill="#231f20" color="#231f20" >1</text>
<text x="507.00" y="357.60" font-size="6.2" text-anchor="middle" font-weight="normal" fill="#231f20" color="#231f20" >0</text>
<text x="6.30" y="383.50" font-size="10.8" text-anchor="start" font-weight="bold" fill="#000" color="#000" style="stroke-width:0.45px">G</text>
<text x="98.60" y="383.50" font-size="7.8" text-anchor="middle" font-weight="normal" fill="#231f20" color="#231f20" textLength="54.0" lengthAdjust="spacingAndGlyphs" >Overall Survival</text>
<line x1="34.40" y1="388.90" x2="34.40" y2="492.60" stroke="#111111" stroke-width="1.2"/>
<line x1="31.40" y1="490.40" x2="34.40" y2="490.40" stroke="#111111" stroke-width="0.9"/>
<text x="28.00" y="492.40" font-size="6.2" text-anchor="end" font-weight="normal" fill="#231f20" color="#231f20" >0</text>
<line x1="31.40" y1="480.51" x2="34.40" y2="480.51" stroke="#111111" stroke-width="0.9"/>
<text x="28.00" y="482.51" font-size="6.2" text-anchor="end" font-weight="normal" fill="#231f20" color="#231f20" >10</text>
<line x1="31.40" y1="470.62" x2="34.40" y2="470.62" stroke="#111111" stroke-width="0.9"/>
<text x="28.00" y="472.62" font-size="6.2" text-anchor="end" font-weight="normal" fill="#231f20" color="#231f20" >20</text>
<line x1="31.40" y1="460.73" x2="34.40" y2="460.73" stroke="#111111" stroke-width="0.9"/>
<text x="28.00" y="462.73" font-size="6.2" text-anchor="end" font-weight="normal" fill="#231f20" color="#231f20" >30</text>
<line x1="31.40" y1="450.84" x2="34.40" y2="450.84" stroke="#111111" stroke-width="0.9"/>
<text x="28.00" y="452.84" font-size="6.2" text-anchor="end" font-weight="normal" fill="#231f20" color="#231f20" >40</text>
<line x1="31.40" y1="440.95" x2="34.40" y2="440.95" stroke="#111111" stroke-width="0.9"/>
<text x="28.00" y="442.95" font-size="6.2" text-anchor="end" font-weight="normal" fill="#231f20" color="#231f20" >50</text>
<line x1="31.40" y1="431.06" x2="34.40" y2="431.06" stroke="#111111" stroke-width="0.9"/>
<text x="28.00" y="433.06" font-size="6.2" text-anchor="end" font-weight="normal" fill="#231f20" color="#231f20" >60</text>
<line x1="31.40" y1="421.17" x2="34.40" y2="421.17" stroke="#111111" stroke-width="0.9"/>
<text x="28.00" y="423.17" font-size="6.2" text-anchor="end" font-weight="normal" fill="#231f20" color="#231f20" >70</text>
<line x1="31.40" y1="411.28" x2="34.40" y2="411.28" stroke="#111111" stroke-width="0.9"/>
<text x="28.00" y="413.28" font-size="6.2" text-anchor="end" font-weight="normal" fill="#231f20" color="#231f20" >80</text>
<line x1="31.40" y1="401.39" x2="34.40" y2="401.39" stroke="#111111" stroke-width="0.9"/>
<text x="28.00" y="403.39" font-size="6.2" text-anchor="end" font-weight="normal" fill="#231f20" color="#231f20" >90</text>
<line x1="31.40" y1="391.50" x2="34.40" y2="391.50" stroke="#111111" stroke-width="0.9"/>
<text x="28.00" y="393.50" font-size="6.2" text-anchor="end" font-weight="normal" fill="#231f20" color="#231f20" >100</text>
<text x="0" y="0" font-size="8.2" font-weight="normal" fill="#231f20" color="#231f20" text-anchor="middle" textLength="37.2" lengthAdjust="spacingAndGlyphs" style="stroke-width:0.3px" transform="translate(13.10,440.00) rotate(-90)">Probability (%)</text>
<line x1="34.40" y1="490.40" x2="34.40" y2="493.00" stroke="#111111" stroke-width="0.9"/>
<text x="34.40" y="501.30" font-size="6.2" text-anchor="middle" font-weight="normal" fill="#231f20" color="#231f20" >0</text>
<line x1="50.11" y1="490.40" x2="50.11" y2="493.00" stroke="#111111" stroke-width="0.9"/>
<text x="50.11" y="501.30" font-size="6.2" text-anchor="middle" font-weight="normal" fill="#231f20" color="#231f20" >6</text>
<line x1="65.82" y1="490.40" x2="65.82" y2="493.00" stroke="#111111" stroke-width="0.9"/>
<text x="65.82" y="501.30" font-size="6.2" text-anchor="middle" font-weight="normal" fill="#231f20" color="#231f20" >12</text>
<line x1="81.54" y1="490.40" x2="81.54" y2="493.00" stroke="#111111" stroke-width="0.9"/>
<text x="81.54" y="501.30" font-size="6.2" text-anchor="middle" font-weight="normal" fill="#231f20" color="#231f20" >18</text>
<line x1="97.25" y1="490.40" x2="97.25" y2="493.00" stroke="#111111" stroke-width="0.9"/>
<text x="97.25" y="501.30" font-size="6.2" text-anchor="middle" font-weight="normal" fill="#231f20" color="#231f20" >24</text>
<line x1="112.96" y1="490.40" x2="112.96" y2="493.00" stroke="#111111" stroke-width="0.9"/>
<text x="112.96" y="501.30" font-size="6.2" text-anchor="middle" font-weight="normal" fill="#231f20" color="#231f20" >30</text>
<line x1="128.67" y1="490.40" x2="128.67" y2="493.00" stroke="#111111" stroke-width="0.9"/>
<text x="128.67" y="501.30" font-size="6.2" text-anchor="middle" font-weight="normal" fill="#231f20" color="#231f20" >36</text>
<line x1="144.39" y1="490.40" x2="144.39" y2="493.00" stroke="#111111" stroke-width="0.9"/>
<text x="144.39" y="501.30" font-size="6.2" text-anchor="middle" font-weight="normal" fill="#231f20" color="#231f20" >42</text>
<line x1="160.10" y1="490.40" x2="160.10" y2="493.00" stroke="#111111" stroke-width="0.9"/>
<text x="160.10" y="501.30" font-size="6.2" text-anchor="middle" font-weight="normal" fill="#231f20" color="#231f20" >48</text>
<text x="98.80" y="512.40" font-size="8.0" text-anchor="middle" font-weight="bold" fill="#231f20" color="#231f20" textLength="42.6" lengthAdjust="spacingAndGlyphs" >Months post-HCT</text>
<text x="55.80" y="471.20" font-size="6.1" text-anchor="start" font-weight="normal" fill="#231f20" color="#231f20" >at 2 years:</text>
<text x="57.60" y="478.60" font-size="6.1" text-anchor="start" font-weight="normal" fill="#231f20" color="#231f20" >61% (95% CI, 38 to 77)</text>
<text x="21.00" y="523.40" font-size="5.8" text-anchor="start" font-weight="normal" fill="#231f20" color="#231f20" >No. at risk</text>
<text x="34.40" y="532.60" font-size="6.2" text-anchor="middle" font-weight="normal" fill="#231f20" color="#231f20" >23</text>
<text x="50.11" y="532.60" font-size="6.2" text-anchor="middle" font-weight="normal" fill="#231f20" color="#231f20" >20</text>
<text x="65.82" y="532.60" font-size="6.2" text-anchor="middle" font-weight="normal" fill="#231f20" color="#231f20" >16</text>
<text x="81.54" y="532.60" font-size="6.2" text-anchor="middle" font-weight="normal" fill="#231f20" color="#231f20" >15</text>
<text x="97.25" y="532.60" font-size="6.2" text-anchor="middle" font-weight="normal" fill="#231f20" color="#231f20" >12</text>
<text x="112.96" y="532.60" font-size="6.2" text-anchor="middle" font-weight="normal" fill="#231f20" color="#231f20" >4</text>
<text x="128.67" y="532.60" font-size="6.2" text-anchor="middle" font-weight="normal" fill="#231f20" color="#231f20" >1</text>
<text x="144.39" y="532.60" font-size="6.2" text-anchor="middle" font-weight="normal" fill="#231f20" color="#231f20" >1</text>
<text x="160.10" y="532.60" font-size="6.2" text-anchor="middle" font-weight="normal" fill="#231f20" color="#231f20" >0</text>
<text x="180.80" y="383.50" font-size="10.8" text-anchor="start" font-weight="bold" fill="#000" color="#000" style="stroke-width:0.45px">H</text>
<text x="206.90" y="383.50" font-size="7.8" text-anchor="start" font-weight="normal" fill="#231f20" color="#231f20" textLength="132.4" lengthAdjust="spacingAndGlyphs" >Overall Survival by Disease-Risk Index</text>
<line x1="208.40" y1="388.90" x2="208.40" y2="492.60" stroke="#111111" stroke-width="1.2"/>
<line x1="205.40" y1="490.40" x2="208.40" y2="490.40" stroke="#111111" stroke-width="0.9"/>
<text x="202.00" y="492.40" font-size="6.2" text-anchor="end" font-weight="normal" fill="#231f20" color="#231f20" >0</text>
<line x1="205.40" y1="480.51" x2="208.40" y2="480.51" stroke="#111111" stroke-width="0.9"/>
<text x="202.00" y="482.51" font-size="6.2" text-anchor="end" font-weight="normal" fill="#231f20" color="#231f20" >10</text>
<line x1="205.40" y1="470.62" x2="208.40" y2="470.62" stroke="#111111" stroke-width="0.9"/>
<text x="202.00" y="472.62" font-size="6.2" text-anchor="end" font-weight="normal" fill="#231f20" color="#231f20" >20</text>
<line x1="205.40" y1="460.73" x2="208.40" y2="460.73" stroke="#111111" stroke-width="0.9"/>
<text x="202.00" y="462.73" font-size="6.2" text-anchor="end" font-weight="normal" fill="#231f20" color="#231f20" >30</text>
<line x1="205.40" y1="450.84" x2="208.40" y2="450.84" stroke="#111111" stroke-width="0.9"/>
<text x="202.00" y="452.84" font-size="6.2" text-anchor="end" font-weight="normal" fill="#231f20" color="#231f20" >40</text>
<line x1="205.40" y1="440.95" x2="208.40" y2="440.95" stroke="#111111" stroke-width="0.9"/>
<text x="202.00" y="442.95" font-size="6.2" text-anchor="end" font-weight="normal" fill="#231f20" color="#231f20" >50</text>
<line x1="205.40" y1="431.06" x2="208.40" y2="431.06" stroke="#111111" stroke-width="0.9"/>
<text x="202.00" y="433.06" font-size="6.2" text-anchor="end" font-weight="normal" fill="#231f20" color="#231f20" >60</text>
<line x1="205.40" y1="421.17" x2="208.40" y2="421.17" stroke="#111111" stroke-width="0.9"/>
<text x="202.00" y="423.17" font-size="6.2" text-anchor="end" font-weight="normal" fill="#231f20" color="#231f20" >70</text>
<line x1="205.40" y1="411.28" x2="208.40" y2="411.28" stroke="#111111" stroke-width="0.9"/>
<text x="202.00" y="413.28" font-size="6.2" text-anchor="end" font-weight="normal" fill="#231f20" color="#231f20" >80</text>
<line x1="205.40" y1="401.39" x2="208.40" y2="401.39" stroke="#111111" stroke-width="0.9"/>
<text x="202.00" y="403.39" font-size="6.2" text-anchor="end" font-weight="normal" fill="#231f20" color="#231f20" >90</text>
<line x1="205.40" y1="391.50" x2="208.40" y2="391.50" stroke="#111111" stroke-width="0.9"/>
<text x="202.00" y="393.50" font-size="6.2" text-anchor="end" font-weight="normal" fill="#231f20" color="#231f20" >100</text>
<text x="0" y="0" font-size="8.2" font-weight="normal" fill="#231f20" color="#231f20" text-anchor="middle" textLength="37.2" lengthAdjust="spacingAndGlyphs" style="stroke-width:0.3px" transform="translate(187.10,440.00) rotate(-90)">Probability (%)</text>
<line x1="208.40" y1="490.40" x2="208.40" y2="493.00" stroke="#111111" stroke-width="0.9"/>
<text x="208.40" y="501.30" font-size="6.2" text-anchor="middle" font-weight="normal" fill="#231f20" color="#231f20" >0</text>
<line x1="224.16" y1="490.40" x2="224.16" y2="493.00" stroke="#111111" stroke-width="0.9"/>
<text x="224.16" y="501.30" font-size="6.2" text-anchor="middle" font-weight="normal" fill="#231f20" color="#231f20" >6</text>
<line x1="239.93" y1="490.40" x2="239.93" y2="493.00" stroke="#111111" stroke-width="0.9"/>
<text x="239.93" y="501.30" font-size="6.2" text-anchor="middle" font-weight="normal" fill="#231f20" color="#231f20" >12</text>
<line x1="255.69" y1="490.40" x2="255.69" y2="493.00" stroke="#111111" stroke-width="0.9"/>
<text x="255.69" y="501.30" font-size="6.2" text-anchor="middle" font-weight="normal" fill="#231f20" color="#231f20" >18</text>
<line x1="271.45" y1="490.40" x2="271.45" y2="493.00" stroke="#111111" stroke-width="0.9"/>
<text x="271.45" y="501.30" font-size="6.2" text-anchor="middle" font-weight="normal" fill="#231f20" color="#231f20" >24</text>
<line x1="287.21" y1="490.40" x2="287.21" y2="493.00" stroke="#111111" stroke-width="0.9"/>
<text x="287.21" y="501.30" font-size="6.2" text-anchor="middle" font-weight="normal" fill="#231f20" color="#231f20" >30</text>
<line x1="302.98" y1="490.40" x2="302.98" y2="493.00" stroke="#111111" stroke-width="0.9"/>
<text x="302.98" y="501.30" font-size="6.2" text-anchor="middle" font-weight="normal" fill="#231f20" color="#231f20" >36</text>
<line x1="318.74" y1="490.40" x2="318.74" y2="493.00" stroke="#111111" stroke-width="0.9"/>
<text x="318.74" y="501.30" font-size="6.2" text-anchor="middle" font-weight="normal" fill="#231f20" color="#231f20" >42</text>
<line x1="334.50" y1="490.40" x2="334.50" y2="493.00" stroke="#111111" stroke-width="0.9"/>
<text x="334.50" y="501.30" font-size="6.2" text-anchor="middle" font-weight="normal" fill="#231f20" color="#231f20" >48</text>
<text x="273.30" y="512.50" font-size="8.0" text-anchor="middle" font-weight="bold" fill="#231f20" color="#231f20" textLength="42.6" lengthAdjust="spacingAndGlyphs" >Months post-HCT</text>
<text x="223.40" y="471.40" font-size="6.1" text-anchor="start" font-weight="normal" fill="#231f20" color="#231f20" >at 2 years:</text>
<line x1="212.90" y1="476.80" x2="221.80" y2="476.80" stroke="#EAA63E" stroke-width="1.5"/>
<text x="225.80" y="478.90" font-size="6.1" text-anchor="start" font-weight="normal" fill="#231f20" color="#231f20" >Low/Intermediate: 85% (95% CI, 51 to 96)</text>
<line x1="212.90" y1="484.10" x2="221.80" y2="484.10" stroke="#33536F" stroke-width="1.5"/>
<text x="225.80" y="486.20" font-size="6.1" text-anchor="start" font-weight="normal" fill="#231f20" color="#231f20" >High/Very High: 30% (95% CI, 7 to 58)</text>
<text x="195.60" y="523.70" font-size="5.8" text-anchor="start" font-weight="normal" fill="#231f20" color="#231f20" >No. at risk</text>
<line x1="192.20" y1="531.00" x2="201.90" y2="531.00" stroke="#EAA63E" stroke-width="1.5"/>
<line x1="192.20" y1="540.40" x2="201.90" y2="540.40" stroke="#33536F" stroke-width="1.5"/>
<text x="208.40" y="533.20" font-size="6.2" text-anchor="middle" font-weight="normal" fill="#231f20" color="#231f20" >13</text>
<text x="224.16" y="533.20" font-size="6.2" text-anchor="middle" font-weight="normal" fill="#231f20" color="#231f20" >11</text>
<text x="239.93" y="533.20" font-size="6.2" text-anchor="middle" font-weight="normal" fill="#231f20" color="#231f20" >11</text>
<text x="255.69" y="533.20" font-size="6.2" text-anchor="middle" font-weight="normal" fill="#231f20" color="#231f20" >11</text>
<text x="271.45" y="533.20" font-size="6.2" text-anchor="middle" font-weight="normal" fill="#231f20" color="#231f20" >9</text>
<text x="287.21" y="533.20" font-size="6.2" text-anchor="middle" font-weight="normal" fill="#231f20" color="#231f20" >4</text>
<text x="302.98" y="533.20" font-size="6.2" text-anchor="middle" font-weight="normal" fill="#231f20" color="#231f20" >1</text>
<text x="318.74" y="533.20" font-size="6.2" text-anchor="middle" font-weight="normal" fill="#231f20" color="#231f20" >1</text>
<text x="334.50" y="533.20" font-size="6.2" text-anchor="middle" font-weight="normal" fill="#231f20" color="#231f20" >0</text>
<text x="208.40" y="542.60" font-size="6.2" text-anchor="middle" font-weight="normal" fill="#231f20" color="#231f20" >10</text>
<text x="224.16" y="542.60" font-size="6.2" text-anchor="middle" font-weight="normal" fill="#231f20" color="#231f20" >9</text>
<text x="239.93" y="542.60" font-size="6.2" text-anchor="middle" font-weight="normal" fill="#231f20" color="#231f20" >5</text>
<text x="255.69" y="542.60" font-size="6.2" text-anchor="middle" font-weight="normal" fill="#231f20" color="#231f20" >4</text>
<text x="271.45" y="542.60" font-size="6.2" text-anchor="middle" font-weight="normal" fill="#231f20" color="#231f20" >3</text>
<text x="287.21" y="542.60" font-size="6.2" text-anchor="middle" font-weight="normal" fill="#231f20" color="#231f20" >0</text>
<text x="302.98" y="542.60" font-size="6.2" text-anchor="middle" font-weight="normal" fill="#231f20" color="#231f20" >0</text>
<text x="318.74" y="542.60" font-size="6.2" text-anchor="middle" font-weight="normal" fill="#231f20" color="#231f20" >0</text>
<text x="334.50" y="542.60" font-size="6.2" text-anchor="middle" font-weight="normal" fill="#231f20" color="#231f20" >0</text>
<text x="354.60" y="383.20" font-size="10.8" text-anchor="start" font-weight="bold" fill="#000" color="#000" style="stroke-width:0.45px">I</text>
<text x="365.50" y="383.50" font-size="7.8" text-anchor="start" font-weight="normal" fill="#231f20" color="#231f20" textLength="147.6" lengthAdjust="spacingAndGlyphs" >GVHD-Free Relapse-Free Survival (GRFS)</text>
<line x1="380.20" y1="388.90" x2="380.20" y2="492.60" stroke="#111111" stroke-width="1.2"/>
<line x1="377.20" y1="490.40" x2="380.20" y2="490.40" stroke="#111111" stroke-width="0.9"/>
<text x="373.80" y="492.40" font-size="6.2" text-anchor="end" font-weight="normal" fill="#231f20" color="#231f20" >0</text>
<line x1="377.20" y1="480.51" x2="380.20" y2="480.51" stroke="#111111" stroke-width="0.9"/>
<text x="373.80" y="482.51" font-size="6.2" text-anchor="end" font-weight="normal" fill="#231f20" color="#231f20" >10</text>
<line x1="377.20" y1="470.62" x2="380.20" y2="470.62" stroke="#111111" stroke-width="0.9"/>
<text x="373.80" y="472.62" font-size="6.2" text-anchor="end" font-weight="normal" fill="#231f20" color="#231f20" >20</text>
<line x1="377.20" y1="460.73" x2="380.20" y2="460.73" stroke="#111111" stroke-width="0.9"/>
<text x="373.80" y="462.73" font-size="6.2" text-anchor="end" font-weight="normal" fill="#231f20" color="#231f20" >30</text>
<line x1="377.20" y1="450.84" x2="380.20" y2="450.84" stroke="#111111" stroke-width="0.9"/>
<text x="373.80" y="452.84" font-size="6.2" text-anchor="end" font-weight="normal" fill="#231f20" color="#231f20" >40</text>
<line x1="377.20" y1="440.95" x2="380.20" y2="440.95" stroke="#111111" stroke-width="0.9"/>
<text x="373.80" y="442.95" font-size="6.2" text-anchor="end" font-weight="normal" fill="#231f20" color="#231f20" >50</text>
<line x1="377.20" y1="431.06" x2="380.20" y2="431.06" stroke="#111111" stroke-width="0.9"/>
<text x="373.80" y="433.06" font-size="6.2" text-anchor="end" font-weight="normal" fill="#231f20" color="#231f20" >60</text>
<line x1="377.20" y1="421.17" x2="380.20" y2="421.17" stroke="#111111" stroke-width="0.9"/>
<text x="373.80" y="423.17" font-size="6.2" text-anchor="end" font-weight="normal" fill="#231f20" color="#231f20" >70</text>
<line x1="377.20" y1="411.28" x2="380.20" y2="411.28" stroke="#111111" stroke-width="0.9"/>
<text x="373.80" y="413.28" font-size="6.2" text-anchor="end" font-weight="normal" fill="#231f20" color="#231f20" >80</text>
<line x1="377.20" y1="401.39" x2="380.20" y2="401.39" stroke="#111111" stroke-width="0.9"/>
<text x="373.80" y="403.39" font-size="6.2" text-anchor="end" font-weight="normal" fill="#231f20" color="#231f20" >90</text>
<line x1="377.20" y1="391.50" x2="380.20" y2="391.50" stroke="#111111" stroke-width="0.9"/>
<text x="373.80" y="393.50" font-size="6.2" text-anchor="end" font-weight="normal" fill="#231f20" color="#231f20" >100</text>
<text x="0" y="0" font-size="8.2" font-weight="normal" fill="#231f20" color="#231f20" text-anchor="middle" textLength="37.2" lengthAdjust="spacingAndGlyphs" style="stroke-width:0.3px" transform="translate(358.20,440.00) rotate(-90)">Probability (%)</text>
<line x1="380.20" y1="490.40" x2="380.20" y2="493.00" stroke="#111111" stroke-width="0.9"/>
<text x="380.20" y="501.30" font-size="6.2" text-anchor="middle" font-weight="normal" fill="#231f20" color="#231f20" >0</text>
<line x1="401.18" y1="490.40" x2="401.18" y2="493.00" stroke="#111111" stroke-width="0.9"/>
<text x="401.18" y="501.30" font-size="6.2" text-anchor="middle" font-weight="normal" fill="#231f20" color="#231f20" >6</text>
<line x1="422.17" y1="490.40" x2="422.17" y2="493.00" stroke="#111111" stroke-width="0.9"/>
<text x="422.17" y="501.30" font-size="6.2" text-anchor="middle" font-weight="normal" fill="#231f20" color="#231f20" >12</text>
<line x1="443.15" y1="490.40" x2="443.15" y2="493.00" stroke="#111111" stroke-width="0.9"/>
<text x="443.15" y="501.30" font-size="6.2" text-anchor="middle" font-weight="normal" fill="#231f20" color="#231f20" >18</text>
<line x1="464.13" y1="490.40" x2="464.13" y2="493.00" stroke="#111111" stroke-width="0.9"/>
<text x="464.13" y="501.30" font-size="6.2" text-anchor="middle" font-weight="normal" fill="#231f20" color="#231f20" >24</text>
<line x1="485.12" y1="490.40" x2="485.12" y2="493.00" stroke="#111111" stroke-width="0.9"/>
<text x="485.12" y="501.30" font-size="6.2" text-anchor="middle" font-weight="normal" fill="#231f20" color="#231f20" >30</text>
<line x1="506.10" y1="490.40" x2="506.10" y2="493.00" stroke="#111111" stroke-width="0.9"/>
<text x="506.10" y="501.30" font-size="6.2" text-anchor="middle" font-weight="normal" fill="#231f20" color="#231f20" >36</text>
<text x="445.20" y="512.50" font-size="8.0" text-anchor="middle" font-weight="bold" fill="#231f20" color="#231f20" textLength="42.6" lengthAdjust="spacingAndGlyphs" >Months post-HCT</text>
<text x="401.40" y="471.40" font-size="6.1" text-anchor="start" font-weight="normal" fill="#231f20" color="#231f20" >at 2 years:</text>
<text x="403.30" y="478.90" font-size="6.1" text-anchor="start" font-weight="normal" fill="#231f20" color="#231f20" >52% (95% CI, 31 to 70)</text>
<text x="367.00" y="523.70" font-size="5.8" text-anchor="start" font-weight="normal" fill="#231f20" color="#231f20" >No. at risk</text>
<text x="380.20" y="533.20" font-size="6.2" text-anchor="middle" font-weight="normal" fill="#231f20" color="#231f20" >23</text>
<text x="401.18" y="533.20" font-size="6.2" text-anchor="middle" font-weight="normal" fill="#231f20" color="#231f20" >18</text>
<text x="422.17" y="533.20" font-size="6.2" text-anchor="middle" font-weight="normal" fill="#231f20" color="#231f20" >13</text>
<text x="443.15" y="533.20" font-size="6.2" text-anchor="middle" font-weight="normal" fill="#231f20" color="#231f20" >12</text>
<text x="464.13" y="533.20" font-size="6.2" text-anchor="middle" font-weight="normal" fill="#231f20" color="#231f20" >10</text>
<text x="485.12" y="533.20" font-size="6.2" text-anchor="middle" font-weight="normal" fill="#231f20" color="#231f20" >3</text>
<text x="506.10" y="533.20" font-size="6.2" text-anchor="middle" font-weight="normal" fill="#231f20" color="#231f20" >0</text>
<polyline points="34.20,129.80 59.40,129.80 59.40,126.10 78.70,126.10 78.70,121.80 159.90,121.80" fill="none" stroke="#EAA63E" stroke-width="1.3" stroke-linejoin="miter" stroke-linecap="butt"/>
<polyline points="208.50,129.80 217.80,129.80 217.80,121.80 262.00,121.80 262.00,117.50 334.40,117.50" fill="none" stroke="#33536F" stroke-width="1.3" stroke-linejoin="miter" stroke-linecap="butt"/>
<polyline points="208.50,129.80 217.80,129.80 217.80,121.80 223.30,121.80 223.30,117.50 228.80,117.50 228.80,113.19 230.50,113.19 230.50,104.59 233.40,104.59 233.40,100.33 241.20,100.33 241.20,95.98 334.40,95.98" fill="none" stroke="#EAA63E" stroke-width="1.3" stroke-linejoin="miter" stroke-linecap="butt"/>
<polyline points="33.90,314.50 37.30,314.50 37.30,310.79 52.50,310.79 52.50,306.49 58.40,306.49 58.40,302.19 60.70,302.19 60.70,297.87 62.90,297.87 62.90,293.62 152.20,293.62" fill="none" stroke="#EAA63E" stroke-width="1.3" stroke-linejoin="miter" stroke-linecap="butt"/>
<polyline points="208.50,314.50 218.40,314.50 218.40,310.79 222.90,310.79 222.90,306.49 230.20,306.49 230.20,302.19 240.60,302.19 240.60,297.87 327.40,297.87" fill="none" stroke="#EAA63E" stroke-width="1.3" stroke-linejoin="miter" stroke-linecap="butt"/>
<polyline points="381.00,216.10 384.70,216.10 384.70,220.41 390.60,220.41 390.60,224.71 395.10,224.71 395.10,228.97 399.90,228.97 399.90,233.33 401.30,233.33 401.30,237.58 405.60,237.58 405.60,241.94 407.90,241.94 407.90,246.20 410.60,246.20 410.60,250.55 412.00,250.55 412.00,254.81 499.90,254.81" fill="none" stroke="#EAA63E" stroke-width="1.3" stroke-linejoin="miter" stroke-linecap="butt"/>
<line x1="439.2" y1="252.91" x2="439.2" y2="254.81" stroke="#EAA63E" stroke-width="0.8"/>
<line x1="446.0" y1="252.91" x2="446.0" y2="254.81" stroke="#EAA63E" stroke-width="0.8"/>
<line x1="458.0" y1="252.91" x2="458.0" y2="254.81" stroke="#EAA63E" stroke-width="0.8"/>
<line x1="499.6" y1="252.91" x2="499.6" y2="254.81" stroke="#EAA63E" stroke-width="0.8"/>
<polyline points="34.40,391.50 43.90,391.50 43.90,395.80 48.20,395.80 48.20,404.36 54.60,404.36 54.60,408.71 63.60,408.71 63.60,417.31 65.30,417.31 65.30,421.57 70.40,421.57 70.40,425.92 81.50,425.92 81.50,430.17 153.00,430.17" fill="none" stroke="#EAA63E" stroke-width="1.3" stroke-linejoin="miter" stroke-linecap="butt"/>
<line x1="98.5" y1="428.27" x2="98.5" y2="430.17" stroke="#EAA63E" stroke-width="0.8"/>
<line x1="110.8" y1="428.27" x2="110.8" y2="430.17" stroke="#EAA63E" stroke-width="0.8"/>
<line x1="120.0" y1="428.27" x2="120.0" y2="430.17" stroke="#EAA63E" stroke-width="0.8"/>
<line x1="126.9" y1="428.27" x2="126.9" y2="430.17" stroke="#EAA63E" stroke-width="0.8"/>
<line x1="152.6" y1="428.27" x2="152.6" y2="430.17" stroke="#EAA63E" stroke-width="0.8"/>
<polyline points="208.40,391.50 222.50,391.50 222.50,406.73 327.40,406.73" fill="none" stroke="#EAA63E" stroke-width="1.3" stroke-linejoin="miter" stroke-linecap="butt"/>
<polyline points="208.40,391.50 218.10,391.50 218.10,401.39 229.00,401.39 229.00,411.28 237.40,411.28 237.40,431.06 239.30,431.06 239.30,440.95 244.60,440.95 244.60,450.84 256.30,450.84 256.30,460.73 286.80,460.73" fill="none" stroke="#33536F" stroke-width="1.3" stroke-linejoin="miter" stroke-linecap="butt"/>
<line x1="257.0" y1="404.83" x2="257.0" y2="406.73" stroke="#EAA63E" stroke-width="0.8"/>
<line x1="267.7" y1="404.83" x2="267.7" y2="406.73" stroke="#EAA63E" stroke-width="0.8"/>
<line x1="275.4" y1="404.83" x2="275.4" y2="406.73" stroke="#EAA63E" stroke-width="0.8"/>
<line x1="277.7" y1="404.83" x2="277.7" y2="406.73" stroke="#EAA63E" stroke-width="0.8"/>
<line x1="283.0" y1="404.83" x2="283.0" y2="406.73" stroke="#EAA63E" stroke-width="0.8"/>
<line x1="287.0" y1="404.83" x2="287.0" y2="406.73" stroke="#EAA63E" stroke-width="0.8"/>
<line x1="290.0" y1="404.83" x2="290.0" y2="406.73" stroke="#EAA63E" stroke-width="0.8"/>
<line x1="300.8" y1="404.83" x2="300.8" y2="406.73" stroke="#EAA63E" stroke-width="0.8"/>
<line x1="327.1" y1="404.83" x2="327.1" y2="406.73" stroke="#EAA63E" stroke-width="0.8"/>
<line x1="272.7" y1="458.83" x2="272.7" y2="460.73" stroke="#33536F" stroke-width="0.8"/>
<line x1="286.5" y1="458.83" x2="286.5" y2="460.73" stroke="#33536F" stroke-width="0.8"/>
<polyline points="380.20,391.50 384.70,391.50 384.70,395.80 389.50,395.80 389.50,404.36 393.20,404.36 393.20,408.71 398.60,408.71 398.60,412.96 405.30,412.96 405.30,417.31 413.70,417.31 413.70,421.57 416.10,421.57 416.10,425.92 419.30,425.92 419.30,430.17 421.50,430.17 421.50,434.52 433.60,434.52 433.60,438.77 505.40,438.77" fill="none" stroke="#EAA63E" stroke-width="1.3" stroke-linejoin="miter" stroke-linecap="butt"/>
<line x1="445.4" y1="436.87" x2="445.4" y2="438.77" stroke="#EAA63E" stroke-width="0.8"/>
<line x1="458.5" y1="436.87" x2="458.5" y2="438.77" stroke="#EAA63E" stroke-width="0.8"/>
<line x1="466.9" y1="436.87" x2="466.9" y2="438.77" stroke="#EAA63E" stroke-width="0.8"/>
<line x1="470.8" y1="436.87" x2="470.8" y2="438.77" stroke="#EAA63E" stroke-width="0.8"/>
<line x1="474.6" y1="436.87" x2="474.6" y2="438.77" stroke="#EAA63E" stroke-width="0.8"/>
<line x1="483.0" y1="436.87" x2="483.0" y2="438.77" stroke="#EAA63E" stroke-width="0.8"/>
<line x1="486.2" y1="436.87" x2="486.2" y2="438.77" stroke="#EAA63E" stroke-width="0.8"/>
<line x1="505.1" y1="436.87" x2="505.1" y2="438.77" stroke="#EAA63E" stroke-width="0.8"/>
<line x1="33.70" y1="130.40" x2="161.80" y2="130.40" stroke="#111111" stroke-width="1.2"/>
<line x1="208.00" y1="130.40" x2="337.00" y2="130.40" stroke="#111111" stroke-width="1.2"/>
<line x1="33.40" y1="315.10" x2="162.80" y2="315.10" stroke="#111111" stroke-width="1.2"/>
<line x1="208.00" y1="315.10" x2="337.60" y2="315.10" stroke="#111111" stroke-width="1.2"/>
<line x1="380.50" y1="315.10" x2="509.60" y2="315.10" stroke="#111111" stroke-width="1.2"/>
<line x1="33.90" y1="490.40" x2="162.70" y2="490.40" stroke="#111111" stroke-width="1.2"/>
<line x1="207.90" y1="490.40" x2="337.10" y2="490.40" stroke="#111111" stroke-width="1.2"/>
<line x1="379.70" y1="490.40" x2="508.70" y2="490.40" stroke="#111111" stroke-width="1.2"/>
<line x1="59.4" y1="130.10" x2="160.30" y2="130.10" stroke="#33536F" stroke-width="1.2"/>
<rect x="0.5" y="0.5" width="519" height="548" fill="none" stroke="#555" stroke-width="1"/>
</svg>
</body></html>
